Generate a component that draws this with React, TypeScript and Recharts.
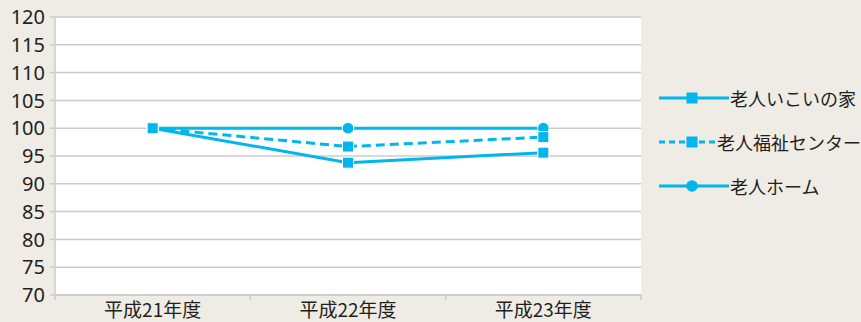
import React from "react";
import { LineChart, Line, XAxis, YAxis, CartesianGrid, Legend } from "recharts";

// 利用者数の推移（平成21年度 = 100）
const years = ["平成21年度", "平成22年度", "平成23年度"];
const ikoiValues = [100, 93.8, 95.6];
const fukushiValues = [100, 96.7, 98.4];
const homeValues = [100, 100, 100];
const yTicks = [70, 75, 80, 85, 90, 95, 100, 105, 110, 115, 120];

const seriesNames = ["老人いこいの家", "老人福祉センター", "老人ホーム"];

const lineColor = "#00b6ec";
const gridColor = "#cbcbcb";
const textColor = "#231f20";
const font = '"Noto Sans CJK JP", "Noto Sans", sans-serif';
const numFont = '"Noto Sans", sans-serif';

// 年度はカテゴリ幅の中央（0.5, 1.5, 2.5）に置き、区切り線は整数位置に引く
const data = years.map((name, i) => ({
  x: i + 0.5,
  name,
  ikoi: ikoiValues[i],
  fukushi: fukushiValues[i],
  home: homeValues[i],
}));
const xTicks = [0, 0.5, 1, 1.5, 2, 2.5, 3];

const SquareDot = (props: any) => {
  const { cx, cy } = props;
  if (cx == null || cy == null) return null;
  return <rect x={cx - 5.5} y={cy - 5.5} width={11} height={11} fill={lineColor} stroke="#fff" strokeWidth={1} />;
};

const CircleDot = (props: any) => {
  const { cx, cy } = props;
  if (cx == null || cy == null) return null;
  return <circle cx={cx} cy={cy} r={5.8} fill={lineColor} stroke="#fff" strokeWidth={1} />;
};

const XTick = (props: any) => {
  const { x, y, payload } = props;
  const v = payload.value as number;
  if (Number.isInteger(v)) {
    return <line x1={x} y1={y} x2={x} y2={y + 5} stroke={gridColor} strokeWidth={1.5} />;
  }
  return (
    <text x={x} y={y + 22} textAnchor="middle" fill={textColor} fontSize={19} fontFamily={font}>
      {years[Math.floor(v)]}
    </text>
  );
};

const legendItems = [
  { name: seriesNames[0], dash: undefined, shape: "square" },
  { name: seriesNames[1], dash: "6 4", shape: "square" },
  { name: seriesNames[2], dash: undefined, shape: "circle" },
];

const LegendContent = () => (
  <div>
    {legendItems.map((item) => (
      <div key={item.name} style={{ display: "flex", alignItems: "center", height: 44 }}>
        <svg width={72} height={44}>
          <line x1={1} y1={22} x2={71} y2={22} stroke={lineColor} strokeWidth={3} strokeDasharray={item.dash} />
          {item.shape === "square" ? (
            <rect x={28.5} y={16.5} width={11} height={11} fill={lineColor} />
          ) : (
            <circle cx={34} cy={22} r={5.8} fill={lineColor} />
          )}
        </svg>
        <span style={{ fontFamily: font, fontSize: 18, color: textColor, whiteSpace: "nowrap" }}>{item.name}</span>
      </div>
    ))}
  </div>
);

export default function App() {
  return (
    <div style={{ position: "absolute", left: 0, top: 0, width: 861, height: 322, background: "#efebe5" }}>
      <LineChart width={861} height={322} data={data} margin={{ top: 17, right: 220, bottom: 0, left: 0 }}>
        <CartesianGrid
          fill="#ffffff"
          stroke={gridColor}
          strokeWidth={1.5}
          verticalCoordinatesGenerator={({ xAxis }: any) =>
            xAxis && typeof xAxis.scale === "function" ? [1, 2].map((v) => xAxis.scale(v)) : []
          }
        />
        <XAxis
          dataKey="x"
          type="number"
          domain={[0, 3]}
          ticks={xTicks}
          interval={0}
          height={27}
          tickSize={0}
          tickMargin={0}
          tickLine={false}
          tick={<XTick />}
          stroke={gridColor}
          strokeWidth={1.5}
        />
        <YAxis
          domain={[70, 120]}
          ticks={yTicks}
          interval={0}
          width={55}
          tickSize={5}
          tickMargin={5}
          stroke={gridColor}
          strokeWidth={1.5}
          tick={{ fill: textColor, fontSize: 20, fontFamily: numFont }}
        />
        <Legend
          layout="vertical"
          align="center"
          verticalAlign="middle"
          content={<LegendContent />}
          wrapperStyle={{ left: 658, top: 76, width: 203, height: 132 }}
        />
        <Line dataKey="home" name={seriesNames[2]} stroke={lineColor} strokeWidth={3} dot={<CircleDot />} isAnimationActive={false} />
        <Line dataKey="fukushi" name={seriesNames[1]} stroke={lineColor} strokeWidth={3} strokeDasharray="9 5" dot={<SquareDot />} isAnimationActive={false} />
        <Line dataKey="ikoi" name={seriesNames[0]} stroke={lineColor} strokeWidth={3} dot={<SquareDot />} isAnimationActive={false} />
      </LineChart>
    </div>
  );
}
